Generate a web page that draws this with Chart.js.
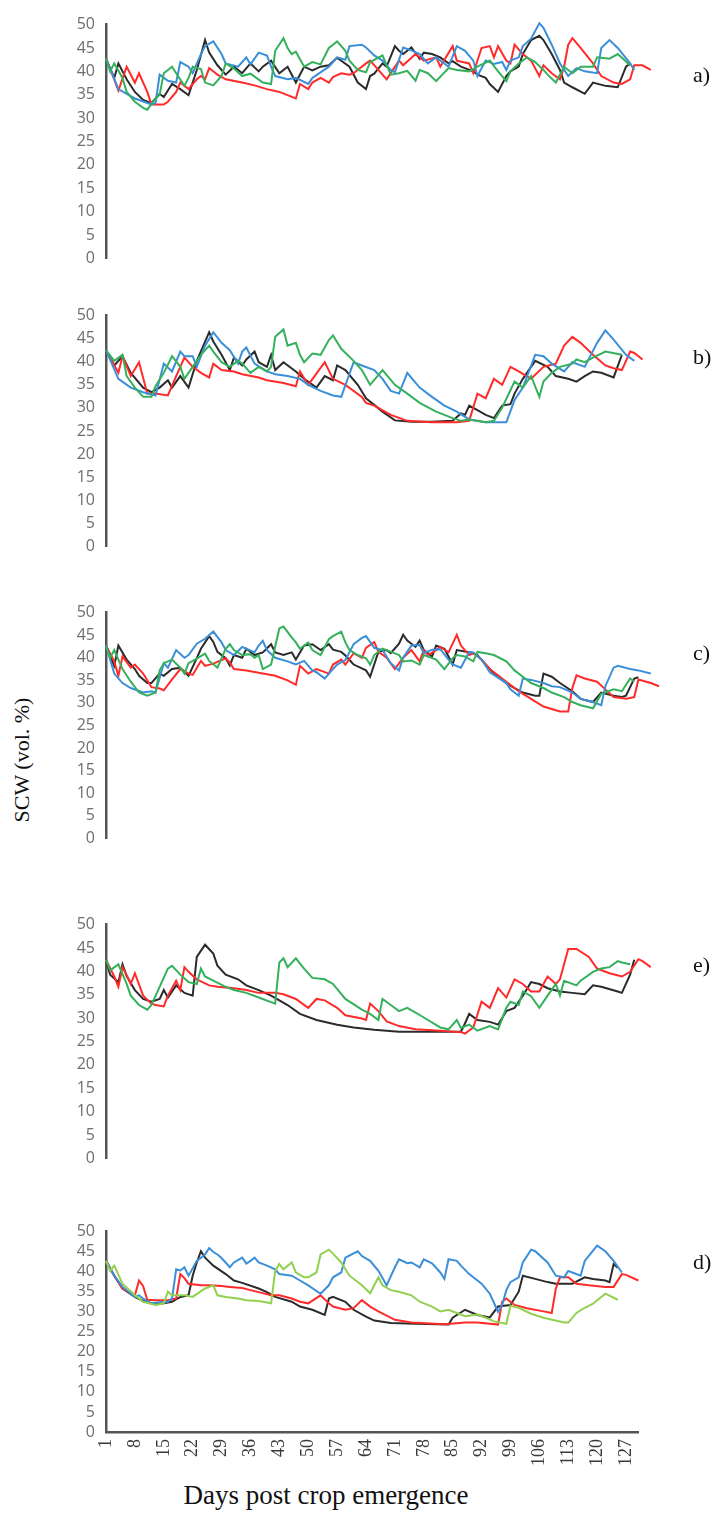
<!DOCTYPE html>
<html><head><meta charset="utf-8">
<script src="https://cdn.jsdelivr.net/npm/chart.js@4.4.1/dist/chart.umd.min.js"></script>
<style>
html,body{margin:0;padding:0;background:#fff}
body{width:720px;height:1513px;position:relative;overflow:hidden}
.pc{position:absolute;left:0}
.txt{position:absolute;font-family:"Liberation Serif","Times New Roman",serif;color:#111;white-space:nowrap}
</style></head><body>
<div class="txt" id="ytitle" style="left:22px;top:760px;font-size:22px;transform:translate(-50%,-50%) rotate(-90deg)">SCW (vol. %)</div>
<div class="txt" id="xtitle" style="left:326px;top:1495px;font-size:27px;transform:translate(-50%,-50%)">Days post crop emergence</div>
<script>
const dayTicks = [1,8,15,22,29,36,43,50,57,64,71,78,85,92,99,106,113,120,127];
const yTicks = [0,5,10,15,20,25,30,35,40,45,50];

// Panel a)
const a_blue = [[1,42.7],[4,36.2],[8,34.2],[12,32.9],[13,33.2],[14,39.3],[16,38],[18,37.6],[19,42],[21,41],[22,39.6],[24,43.7],[25,45.4],[27,46.4],[29,43.7],[30,41.7],[33,41],[34,42],[35,43],[36,41.5],[38,44],[40,43.4],[41,41],[42,39],[45,38.3],[47,38.6],[50,37.3],[51,38.6],[55,41],[57,43],[59,42.5],[60,45.4],[63,45.7],[64,45.1],[66,43.4],[68,42.3],[70,40.3],[71,39.8],[73,45.1],[75,44.5],[77,43.7],[79,41.7],[81,43],[84,41],[86,45.4],[88,44.4],[90,42.3],[91,39],[93,42.3],[95,41.6],[97,42],[98,40.3],[99,42.3],[101,43],[102,45.4],[104,47],[106,50.3],[107,49.3],[109,45.7],[111,41.7],[113,39],[115,40.7],[117,40],[120,39.6],[121,45],[123,46.7],[125,45],[128,41.7],[129,40.3]];
const a_black = [[1,42.7],[3,38.6],[4,41.7],[6,38.3],[8,35.6],[10,33.9],[12,33.2],[14,35.2],[15,34.5],[17,37.3],[19,36.2],[21,34.9],[23,40.3],[25,46.7],[26,44],[28,41.3],[30,39.3],[32,41],[34,39.6],[36,41.7],[38,40],[39,41],[41,42.3],[43,39.6],[45,41],[47,37.6],[49,41],[51,40.2],[53,41],[55,41.3],[57,42.9],[60,41],[62,37.6],[64,36.2],[65,39],[66,39.5],[68,41.7],[69,41],[71,45.4],[72,44.4],[73,43.7],[75,45.1],[77,42.7],[78,44],[80,43.7],[82,43],[84,41.7],[85,42.2],[87,41],[90,40],[91,39.3],[93,38.6],[94,37.3],[96,35.6],[98,39],[99,40],[101,41],[102,43.7],[104,46.7],[106,47.6],[107,46.7],[109,43.7],[111,40.3],[112,37.6],[114,36.6],[117,35.2],[119,37.6],[122,36.9],[125,36.6],[127,41],[128,41.7]];
const a_red = [[1,42.7],[3,38.3],[4,35.9],[6,41],[8,37.6],[9,39.6],[11,35.6],[12,32.9],[15,32.9],[16,33.5],[18,35.6],[19,37.6],[21,36.2],[23,38.3],[24,39],[25,38.3],[26,40.7],[28,39.3],[30,38.3],[34,37.6],[37,37],[40,36.2],[43,35.6],[47,34.2],[48,37.3],[50,36.2],[51,37.6],[53,38.6],[55,37.6],[56,38.8],[58,39.6],[60,39.3],[61,39.6],[64,41.7],[65,42.3],[67,40.3],[69,38.3],[72,42.3],[73,41.3],[76,43.7],[78,42.3],[81,43],[82,41],[85,45.4],[86,42.3],[89,41.7],[90,39.6],[92,45],[94,45.4],[95,43],[96,45.4],[98,42.3],[99,41.7],[100,45.7],[102,43.7],[104,42.3],[106,39],[107,41.3],[109,39.6],[111,38.3],[112,41],[113,45.7],[114,47.1],[116,45],[119,41.7],[121,39],[124,37.6],[126,37.3],[128,38.3],[129,41.3],[131,41.3],[133,40.3]];
const a_green = [[1,42.7],[2,40],[3,41.7],[5,38.6],[6,35.6],[8,33.5],[10,32.2],[11,31.8],[13,34.2],[14,35],[15,39.6],[17,41],[18,39.6],[20,36.9],[21,38.6],[22,41],[24,40.5],[25,37.6],[27,37],[29,39],[30,41.7],[32,40.6],[34,39],[36,39.5],[39,37.6],[41,37.3],[42,44.4],[44,47.1],[45,45],[46,43.7],[47,44.2],[49,41],[50,41.5],[51,42],[53,41.5],[55,45],[56,45.7],[57,46.4],[59,44.4],[60,42.3],[62,40.3],[64,39.8],[65,42],[68,43.4],[70,39.3],[72,39.6],[74,40.1],[76,38],[77,40.3],[79,39.6],[81,37.9],[84,40.7],[86,40.3],[89,40],[91,41],[94,42.3],[96,40],[98,37.9],[99,40],[101,41.7],[103,43],[105,42],[107,40.3],[108,39.3],[110,37.6],[112,41],[114,39.6],[116,41],[119,41],[120,43],[123,42.7],[125,43.7],[128,41.3]];

// Panel b)
const b_black = [[1,42.5],[3,39.2],[5,41.2],[7,37.6],[10,34.4],[12,33.4],[14,34.4],[16,36],[17,34.4],[19,36.9],[21,34.4],[23,40.2],[26,46.4],[27,44.4],[29,41.5],[31,38.2],[32,40.9],[34,39.2],[35,40.5],[37,42.2],[38,39.9],[40,38.9],[41,41.5],[42,38.2],[44,39.9],[47,37.9],[49,36.3],[52,34.4],[54,36.9],[56,36],[57,39.2],[59,38.2],[62,35],[64,32.1],[68,29.2],[71,27.3],[75,27],[80,27],[85,27.2],[87,28.8],[88,28.5],[89,30.5],[91,29.5],[93,28.5],[95,27.8],[97,30.5],[99,30.8],[100,33.1],[102,36.3],[105,40.2],[108,38.9],[110,36.9],[113,36.3],[115,35.7],[117,36.9],[119,37.9],[121,37.6],[124,36.6],[126,41.5]];
const b_blue = [[1,42.5],[4,36.3],[7,34.4],[10,33.4],[13,32.7],[15,39.6],[17,37.9],[19,42.2],[20,41.2],[22,41.2],[23,38.9],[25,43.5],[27,46.4],[29,44.1],[31,42.5],[33,39.6],[34,42.2],[35,43.1],[37,39.6],[40,37.9],[42,37.3],[45,36.9],[48,36.3],[50,35],[53,33.7],[56,32.7],[58,32.4],[61,39.9],[63,39.2],[66,38.2],[68,36.3],[70,33.7],[72,33.1],[74,37.6],[77,34.4],[80,32.4],[83,30.5],[86,29.2],[89,27.5],[93,26.9],[98,26.9],[100,31.7],[102,34.4],[105,41.5],[107,41.2],[109,39.6],[112,37.9],[114,39.9],[117,38.9],[120,44.1],[122,46.8],[124,44.8],[127,41.5],[129,40.2]];
const b_green = [[1,42.5],[3,40.2],[5,41.5],[6,36.9],[8,34.4],[10,32.4],[12,32.4],[13,34.7],[15,37.6],[17,41.2],[19,38.9],[20,36.3],[22,38.9],[24,41.5],[26,43.5],[27,42.2],[29,39.9],[31,38.9],[33,40.2],[34,39.6],[36,37.6],[38,38.9],[40,37.9],[41,38.9],[42,45.4],[44,47],[45,43.5],[47,44.1],[48,41.5],[49,39.9],[51,41.8],[53,41.5],[55,44.7],[56,45.7],[58,42.8],[61,40.2],[63,38.2],[65,35],[68,38.2],[71,35],[74,33.1],[77,31.1],[81,29.2],[85,27.8],[87,27.2],[89,27.5],[93,26.9],[95,27.2],[97,30.1],[100,35.7],[102,34.4],[104,36.9],[106,32.4],[107,35.7],[109,37.6],[111,38.9],[114,39.6],[115,40.5],[117,39.9],[119,40.9],[122,42.2],[126,41.5]];
const b_red = [[1,42.5],[4,37.6],[5,41.2],[7,36.9],[9,39.9],[11,33.1],[13,33.1],[16,32.7],[18,36.9],[20,40.9],[22,38.9],[24,37.6],[26,36.6],[27,39.6],[29,38.2],[32,37.9],[34,37.3],[38,36.6],[40,36],[44,35.4],[47,34.7],[48,37.9],[50,35],[54,39.9],[56,36.3],[59,35],[63,32.4],[64,31.1],[66,30.5],[70,28.5],[74,27.2],[80,26.9],[86,26.9],[89,27.2],[91,33.1],[93,32.1],[95,36.3],[97,35],[99,38.9],[101,37.9],[104,36.3],[107,38.9],[110,39.6],[112,43.5],[114,45.4],[116,44.1],[119,41.5],[122,39.2],[124,38.6],[126,38.2],[128,42.2],[129,41.9],[131,40.5]];

// Panel c)
const c_black = [[1,42.7],[3,38.2],[4,42.7],[6,39.6],[8,37.5],[9,36],[11,34.4],[12,34.4],[14,36.5],[15,36],[17,37.5],[19,37.8],[21,36],[23,39.9],[24,42],[26,44.8],[27,43.5],[28,41.3],[30,39.9],[31,38.3],[32,40.6],[34,40],[35,42],[37,40.6],[39,41.2],[41,43],[42,41.2],[44,40.6],[46,41.2],[47,39.6],[49,42.7],[51,43],[53,41.7],[55,43],[56,41.8],[58,41.3],[59,40.5],[61,38.5],[64,37.2],[65,35.8],[67,41.3],[69,41.7],[70,41],[72,43.1],[73,45.1],[74,43.8],[76,42.4],[77,43.8],[78,41.7],[80,40.3],[81,42.7],[83,42],[85,38.5],[86,41.7],[88,41.4],[90,41],[91,40.6],[93,38.5],[95,36.5],[98,34.4],[100,33.3],[102,32.3],[105,31.6],[106,31.6],[107,36.5],[109,35.8],[111,34.4],[114,32.6],[116,30.9],[119,30.2],[121,32.3],[124,31.6],[126,31.3],[127,31.6],[129,35.4],[130,35.7]];
const c_blue = [[1,42.7],[3,36.5],[5,34.4],[7,33.3],[10,32.3],[12,32.6],[13,32.3],[15,38.8],[16,37.8],[18,41.7],[20,40],[21,40.6],[23,43.1],[25,44.2],[27,45.8],[29,43.4],[30,41.7],[32,40.6],[34,42.4],[35,42],[37,41.2],[38,42.7],[39,43.75],[40,41.7],[42,40],[45,39.2],[47,38.5],[49,39.3],[51,37.2],[52,36.8],[54,35.4],[55,36.5],[57,38.5],[59,39.5],[61,43],[63,44.4],[64,44.8],[66,42.2],[68,41.7],[70,38.8],[72,37.2],[73,40],[75,42.7],[77,42.8],[78,41],[80,41.8],[82,41.9],[84,39.6],[85,38.5],[87,37.8],[89,41.3],[90,41.2],[92,39.6],[94,36.8],[98,34.4],[99,33],[101,31.6],[102,35.4],[104,35.1],[107,34.4],[109,33.7],[111,33.5],[114,32.3],[116,30.9],[119,30.2],[121,29.5],[122,33.7],[124,37.8],[125,38.2],[128,37.5],[130,37.2],[133,36.5]];
const c_red = [[1,42.7],[3,39.2],[4,36],[5,40.3],[7,37.8],[8,38.5],[10,36.5],[11,35],[12,33.5],[14,33.2],[15,32.8],[17,35.2],[19,37.5],[21,36.5],[22,36.2],[24,39.3],[25,38.2],[27,38.7],[30,39.9],[31,38.9],[32,37.5],[35,37.2],[39,36.5],[42,36],[45,35],[47,34],[48,38.2],[50,36.5],[52,37.5],[55,36.5],[56,38.5],[58,39.6],[59,38.5],[61,41],[63,40],[64,42.2],[66,43.5],[67,41.3],[69,40],[71,37.5],[73,40],[75,41.7],[77,39.2],[78,41.7],[79,40.6],[81,41.7],[82,42.4],[84,41.2],[86,45.1],[87,42.7],[89,40.6],[90,41],[92,39.6],[94,37.5],[98,34.7],[101,32.6],[104,30.9],[107,29.2],[111,28.1],[113,28.1],[114,33.3],[115,36.1],[117,35.4],[120,34.7],[122,33],[124,31.3],[127,30.9],[129,31.3],[130,35.2],[133,34.4],[135,33.7]];
const c_green = [[1,42.7],[2,40],[3,41.7],[5,37.5],[7,34.7],[9,32.3],[11,31.6],[13,32.3],[14,37.2],[15,38.8],[17,39.6],[19,37.8],[20,36.5],[21,38.8],[23,39.8],[25,40.9],[26,39.3],[28,37.8],[30,42],[31,43],[32,41.7],[34,40.6],[36,40.8],[37,40],[38,40.6],[39,37.5],[41,38.5],[43,46.5],[44,46.9],[46,44.5],[47,43.4],[48,42],[50,43.4],[51,41.7],[53,40.6],[55,44.1],[56,44.8],[58,45.8],[59,43.4],[60,41.7],[62,40.6],[64,39.9],[65,38.5],[66,40.6],[68,42],[69,41.7],[72,40.6],[73,39.2],[75,39.4],[77,38.5],[78,40.6],[81,39.6],[83,37.5],[85,39.9],[86,40.6],[88,40.3],[90,39.2],[91,41.3],[93,41],[95,40.6],[98,39.2],[100,37.2],[102,35.8],[104,34.4],[107,33.3],[109,32.3],[112,31.3],[114,30.2],[116,29.5],[119,28.8],[121,32],[124,33],[126,32.6],[128,35.4],[129,34.7]];

// Panel e)
const e_black = [[1,42.5],[2,39.3],[4,37.7],[5,41.5],[6,39],[8,36],[10,34.1],[12,33.5],[14,34.1],[15,36],[16,34.4],[18,37],[20,35.4],[22,34.8],[23,43.1],[25,45.7],[27,43.8],[28,41.2],[30,39.3],[33,38.3],[35,37],[38,36],[41,34.8],[45,32.8],[48,30.9],[52,29.6],[57,28.6],[61,28],[66,27.5],[72,27.1],[80,27.1],[87,27.1],[88,28.9],[89,30.9],[91,29.6],[94,29.2],[96,28.6],[98,31.5],[100,32.2],[102,34.8],[104,37.7],[106,37.3],[108,36.4],[111,35.7],[114,35.4],[117,35.1],[119,37],[121,36.7],[125,35.7],[126,35.4],[128,39.3],[129,42.5]];
const e_red = [[1,42.5],[3,38.9],[4,36.7],[5,40.9],[6,39.2],[7,37.3],[8,39.6],[10,34.8],[12,33.1],[13,32.8],[15,32.5],[16,34.8],[18,38],[19,36],[20,40.9],[21,39.9],[23,38.3],[26,37],[28,36.7],[32,36.4],[35,36],[38,35.4],[42,35.4],[44,35.1],[47,34.1],[50,32.2],[52,34.1],[54,33.8],[57,32.2],[59,30.6],[63,29.9],[64,29.6],[65,33.1],[67,31.5],[69,29.3],[72,28.3],[76,27.6],[82,27.3],[87,27],[88,26.7],[90,28],[92,33.5],[94,32.2],[96,36.4],[98,34.4],[100,38.3],[102,37.3],[104,35.7],[106,35.7],[108,38.9],[110,37.3],[111,38.3],[113,44.8],[115,44.8],[118,43.1],[120,40.6],[123,39.6],[126,38.9],[128,39.9],[130,42.6],[131,42.2],[133,40.9]];
const e_green = [[1,42.5],[2,40.2],[4,41.5],[6,37.3],[7,34.8],[9,32.8],[11,31.8],[12,32.8],[14,36.7],[16,40.6],[17,41.2],[19,39.3],[21,37.7],[23,37.3],[24,40.6],[25,38.9],[27,38],[30,36.7],[32,36],[35,35.4],[38,34.4],[42,33.1],[43,41.9],[44,42.8],[45,40.9],[47,42.8],[49,40.6],[51,38.6],[54,38.3],[56,37.3],[59,34.1],[63,31.8],[65,30.9],[67,29.6],[68,34.1],[70,32.8],[72,31.5],[74,32.2],[76,31.2],[79,29.6],[82,28],[84,27.6],[86,29.6],[87,27.9],[89,28.6],[91,27.3],[94,28.3],[96,27.6],[98,32.2],[99,33.5],[101,32.8],[102,35.7],[104,34.7],[106,32.2],[108,34.8],[110,37.3],[111,34.8],[112,38],[115,37],[116,38],[119,39.9],[121,40.6],[123,40.9],[125,42.2],[126,41.9],[128,41.5]];

// Panel d)
const d_blue = [[1,42.7],[3,39],[5,36.2],[8,33.7],[9,34.1],[10,33.3],[12,32.1],[14,32.4],[16,32.5],[17,33.3],[18,40.6],[19,40.3],[20,41.1],[21,39],[23,42.7],[25,44.3],[26,45.9],[27,44.9],[28,44.3],[29,43.4],[31,41.1],[32,42.3],[34,43.5],[35,42],[36,42.7],[37,43.5],[38,42.3],[40,41.5],[42,40.6],[43,39.4],[46,39],[48,37.8],[50,36.6],[53,34.5],[55,36.6],[56,38.6],[58,39.8],[59,43.5],[62,45.1],[63,43.9],[65,42.7],[67,40.2],[69,36.6],[71,41.1],[72,43.1],[74,42.1],[75,42.3],[77,41.1],[78,43.1],[80,42.1],[82,39.8],[83,38.2],[84,43.1],[86,42.7],[87,41.5],[89,39.4],[92,37],[94,34.5],[96,30],[97,31.7],[98,35.4],[99,37.4],[101,38.6],[102,42.3],[104,45.5],[105,45.1],[108,42.3],[110,39],[112,38.6],[113,40.2],[114,39.8],[116,39],[117,42.7],[120,46.5],[122,45.1],[124,42.7],[126,39.8]];
const d_black = [[1,42.7],[3,39],[5,35.8],[8,33.7],[10,32.7],[13,31.9],[15,32.1],[17,32.5],[19,33.7],[21,34.1],[22,39],[23,42.3],[24,45.1],[25,43.5],[27,41.5],[30,39.4],[32,37.8],[34,37.2],[38,35.8],[40,34.9],[42,33.7],[46,32.5],[48,31.3],[51,30.5],[54,29.2],[55,33.3],[56,33.7],[59,32.5],[61,30.5],[64,28.8],[66,27.8],[70,27.2],[76,27],[84,26.8],[85,28.5],[88,30.5],[91,29.2],[94,28.6],[96,31.3],[99,31.7],[101,35],[102,39],[105,38.2],[108,37.4],[110,37],[114,37],[117,38.6],[119,38.2],[122,37.8],[123,37.4],[124,41.9],[125,41]];
const d_red = [[1,42.7],[3,39],[5,35.8],[8,34.1],[9,37.8],[10,36.4],[11,33],[13,32.9],[16,32.9],[18,33.3],[19,39.4],[20,38.4],[21,37],[24,36.6],[26,36.6],[29,36.4],[31,36.2],[34,35.9],[36,35.4],[38,34.9],[41,34.1],[43,34.1],[46,33.3],[48,32.5],[50,32.1],[53,34.1],[55,32.1],[56,31.3],[59,30.5],[61,30.9],[63,32.9],[65,31.3],[67,30.1],[71,28],[75,27.3],[83,26.9],[88,27.3],[91,27.3],[96,26.8],[97,32.5],[98,33.3],[100,31.7],[103,30.9],[107,30.1],[109,29.7],[110,35.8],[111,38.6],[113,38.6],[115,37],[118,36.6],[122,36.2],[124,36.2],[126,39.4],[127,39.2],[130,37.8]];
const d_lgreen = [[1,42.7],[2,40.2],[3,41.5],[5,37],[8,34.1],[10,32.5],[13,31.7],[15,32.1],[16,35],[17,34.1],[20,34.1],[22,33.7],[25,35.8],[27,36.6],[28,34.1],[30,33.7],[33,33.3],[35,32.9],[38,32.7],[40,32.3],[41,32.1],[42,40.2],[43,41.9],[44,40.6],[46,42.3],[47,39.8],[49,38.6],[50,38.6],[52,39.8],[53,44.3],[55,45.5],[56,44.5],[58,42.3],[60,39],[63,36.6],[65,34.6],[67,38.6],[68,36.6],[70,35.4],[72,35],[75,34.1],[77,32.5],[80,31.3],[82,30.1],[84,30.5],[86,29.7],[88,28.9],[91,29.3],[93,28.5],[95,27.6],[98,27],[99,31.5],[101,31],[104,29.5],[107,28.5],[112,27.3],[113,27.3],[115,29.7],[117,31],[119,32],[121,33.7],[122,34.5],[125,33]];

const COLORS = {red:'#ff2b2b', green:'#35b05c', blue:'#3b8fd8', black:'#2b2b2b', lgreen:'#92d050'};
const X0 = 106, PX_PER_DAY = 4.127;

const panels = [
  {label:'a)', top:18,   bottom:265,  xmax:135, labelY:75,   series:[['green',a_green],['blue',a_blue],['red',a_red],['black',a_black]]},
  {label:'b)', top:309,  bottom:553,  xmax:135, labelY:357,  series:[['green',b_green],['blue',b_blue],['red',b_red],['black',b_black]]},
  {label:'c)', top:606,  bottom:845,  xmax:135, labelY:653,  series:[['green',c_green],['blue',c_blue],['red',c_red],['black',c_black]]},
  {label:'e)', top:918,  bottom:1165, xmax:135, labelY:965,  series:[['green',e_green],['red',e_red],['black',e_black]]},
  {label:'d)', top:1225, bottom:1432, xmax:130, labelY:1262, series:[['lgreen',d_lgreen],['blue',d_blue],['red',d_red],['black',d_black]]}
];

panels.forEach((p, i) => {
  const isLast = i === panels.length - 1;
  const padT = 14, padB = isLast ? 0 : 14, xH = isLast ? 62 : 0;
  const h = (p.bottom - p.top) + padT + padB + xH;
  const right = X0 + (p.xmax - 1) * PX_PER_DAY;
  const wrap = document.createElement('div');
  wrap.className = 'pc';
  wrap.style.top = (p.top - padT) + 'px';
  wrap.style.width = '720px';
  wrap.style.height = h + 'px';
  const cv = document.createElement('canvas');
  cv.width = 720; cv.height = h;
  cv.style.width = '720px'; cv.style.height = h + 'px';
  wrap.appendChild(cv);
  document.body.appendChild(wrap);

  const lab = document.createElement('div');
  lab.className = 'txt';
  lab.textContent = p.label;
  lab.style.left = '693px';
  lab.style.top = p.labelY + 'px';
  lab.style.fontSize = '22px';
  lab.style.transform = 'translateY(-50%)';
  document.body.appendChild(lab);

  new Chart(cv, {
    type: 'line',
    data: {
      datasets: p.series.map(([c, arr]) => ({
        data: arr.map(([x, y]) => ({x, y})),
        borderColor: COLORS[c],
        borderWidth: 2,
        pointRadius: 0,
        tension: 0,
        fill: false,
        clip: false
      }))
    },
    options: {
      responsive: false,
      animation: false,
      devicePixelRatio: 1,
      layout: {padding: {top: padT, bottom: padB, left: 0, right: 720 - right}},
      plugins: {legend: {display: false}, tooltip: {enabled: false}},
      scales: {
        x: {
          type: 'linear', min: 1, max: p.xmax, display: isLast,
          afterFit: s => { s.height = xH; },
          afterBuildTicks: s => { s.ticks = dayTicks.map(v => ({value: v})); },
          ticks: {autoSkip: false, minRotation: 90, maxRotation: 90, padding: 7, color: '#3a3a3a',
                  font: {family: 'Liberation Serif', size: 18}},
          grid: {display: false, drawTicks: false},
          border: {display: true, color: '#555555', width: 2.5}
        },
        y: {
          min: 0, max: 50,
          afterFit: s => { s.width = X0; },
          afterBuildTicks: s => { s.ticks = yTicks.map(v => ({value: v})); },
          ticks: {autoSkip: false, padding: 11, color: '#6e6e6e', font: {family: 'Open Sans', size: 16}},
          grid: {display: false, drawTicks: false},
          border: {display: true, color: '#555555', width: 2.5}
        }
      }
    }
  });
});
</script>
</body></html>
